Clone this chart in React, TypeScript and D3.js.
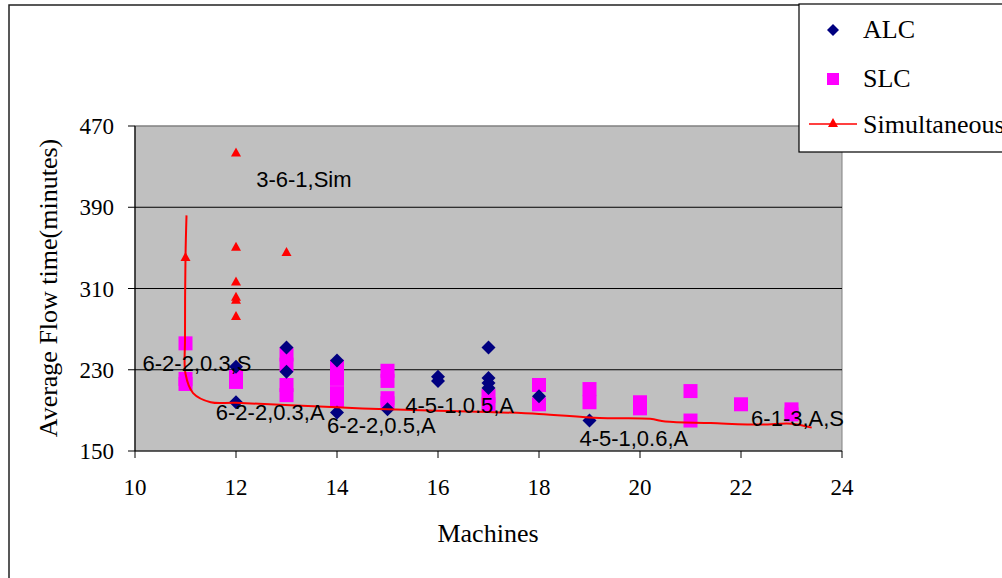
import React from "react";
import * as d3 from "d3";

const xTicks = [10, 12, 14, 16, 18, 20, 22, 24];
const yTicks = [150, 230, 310, 390, 470];

const alcX = [12, 12, 13, 13, 14, 14, 15, 16, 16, 17, 17, 17, 17, 18, 19];
const alcY = [233, 198, 252, 228, 239, 188, 191, 223, 219, 252, 222, 217, 212, 204, 180];

const slcX = [11, 11, 11, 12, 12, 13, 13, 13, 13, 14, 14, 14, 14, 15, 15, 15, 15, 17, 17, 18, 18, 19, 19, 20, 20, 21, 21, 22, 23, 23];
const slcY = [256, 221, 216, 223, 218, 245, 235, 215, 205, 233, 221, 207, 200, 229, 219, 202, 197, 204, 196, 215, 196, 211, 198, 198, 192, 209, 180, 196, 191, 186];

const simX = [11, 12, 12, 12, 12, 12, 12, 13];
const simY = [341, 444, 351, 317, 302, 299, 283, 346];

const lineX = [11.02, 11.0, 10.99, 11.0, 11.15, 11.5, 12, 14, 15, 17, 18, 19.2, 20.2, 20.5, 21.4, 22.4, 23, 23.4];
const lineY = [382, 341, 260, 226, 207, 198, 197.5, 193, 191, 188.5, 186.5, 182.5, 181.7, 179, 177.5, 176, 176.8, 173];

const labels = ["3-6-1,Sim", "6-2-2,0.3,S", "6-2-2,0.3,A", "6-2-2,0.5,A", "4-5-1,0.5,A", "4-5-1,0.6,A", "6-1-3,A,S"];
const labelX = [12.4, 10.15, 11.6, 13.8, 15.35, 18.8, 22.2];
const labelY = [410, 229, 180.5, 168, 187.5, 155, 174.5];

const legendNames = ["ALC", "SLC", "Simultaneous"];

export default function App() {
  const x = d3.scaleLinear().domain([10, 24]).range([135, 842]);
  const y = d3.scaleLinear().domain([150, 470]).range([451, 126]);
  const line = d3
    .line<number>()
    .x((_, i) => x(lineX[i]))
    .y((_, i) => y(lineY[i]))
    .curve(d3.curveCatmullRom.alpha(0.5));
  const diamond = (cx: number, cy: number, r: number) =>
    `M${cx},${cy - r}L${cx + r},${cy}L${cx},${cy + r}L${cx - r},${cy}Z`;
  const tri = (cx: number, cy: number) =>
    `M${cx},${cy - 5}L${cx + 5},${cy + 4}L${cx - 5},${cy + 4}Z`;
  const serif = "'Liberation Serif', 'Times New Roman', serif";
  const sans = "'Liberation Sans', Arial, sans-serif";

  return (
    <svg width={1002} height={578} style={{ position: "absolute", left: 0, top: 0 }}>
      <rect x={0} y={0} width={1002} height={578} fill="#fff" />
      <rect x={9} y={5} width={1100} height={700} fill="#fff" stroke="#222" strokeWidth={1.5} />
      {/* plot area */}
      <rect x={135} y={126} width={707} height={325} fill="#c0c0c0" stroke="#808080" strokeWidth={1} />
      {yTicks.slice(1, 4).map((t) => (
        <line key={t} x1={135} x2={842} y1={y(t)} y2={y(t)} stroke="#000" strokeWidth={1} />
      ))}
      <line x1={135} x2={842} y1={126} y2={126} stroke="#808080" strokeWidth={1} />
      {/* axes */}
      <line x1={135} x2={135} y1={126} y2={451} stroke="#000" strokeWidth={1.2} />
      <line x1={135} x2={842} y1={451} y2={451} stroke="#000" strokeWidth={1.2} />
      {yTicks.map((t) => (
        <g key={t}>
          <line x1={128} x2={135} y1={y(t)} y2={y(t)} stroke="#000" />
          <text x={114} y={y(t)} dy="0.35em" textAnchor="end" fontFamily={serif} fontSize={23}>
            {t}
          </text>
        </g>
      ))}
      {xTicks.map((t) => (
        <g key={t}>
          <line x1={x(t)} x2={x(t)} y1={451} y2={458} stroke="#000" />
          <text x={x(t)} y={495} textAnchor="middle" fontFamily={serif} fontSize={23}>
            {t}
          </text>
        </g>
      ))}
      <text x={488} y={542} textAnchor="middle" fontFamily={serif} fontSize={26}>
        Machines
      </text>
      <text
        transform={`translate(57,288) rotate(-90)`}
        textAnchor="middle"
        fontFamily={serif}
        fontSize={26}
      >
        Average Flow time(minutes)
      </text>
      {/* SLC squares */}
      {slcX.map((v, i) => (
        <rect key={"s" + i} x={x(v) - 7} y={y(slcY[i]) - 7} width={14} height={14} fill="#ff00ff" />
      ))}
      {/* ALC diamonds */}
      {alcX.map((v, i) => (
        <path key={"a" + i} d={diamond(x(v), y(alcY[i]), 7)} fill="#000080" />
      ))}
      {/* Simultaneous line */}
      <path d={line(lineX) || ""} fill="none" stroke="#ff0000" strokeWidth={2} />
      {simX.map((v, i) => (
        <path key={"t" + i} d={tri(x(v), y(simY[i]))} fill="#ff0000" />
      ))}
      {/* data labels */}
      {labels.map((l, i) => (
        <text key={l} x={x(labelX[i])} y={y(labelY[i])} fontFamily={sans} fontSize={22} fill="#000">
          {l}
        </text>
      ))}
      {/* legend */}
      <rect x={799} y={4} width={300} height={148} fill="#fff" stroke="#000" strokeWidth={1.2} />
      <path d={diamond(833, 30, 6)} fill="#000080" />
      <text x={863} y={38} fontFamily={serif} fontSize={26}>
        {legendNames[0]}
      </text>
      <rect x={827} y={73} width={12} height={12} fill="#ff00ff" />
      <text x={863} y={87} fontFamily={serif} fontSize={26}>
        {legendNames[1]}
      </text>
      <line x1={809} x2={857} y1={124} y2={124} stroke="#ff0000" strokeWidth={1.5} />
      <path d={tri(833, 123)} fill="#ff0000" />
      <text x={863} y={133} fontFamily={serif} fontSize={26}>
        {legendNames[2]}
      </text>
    </svg>
  );
}
